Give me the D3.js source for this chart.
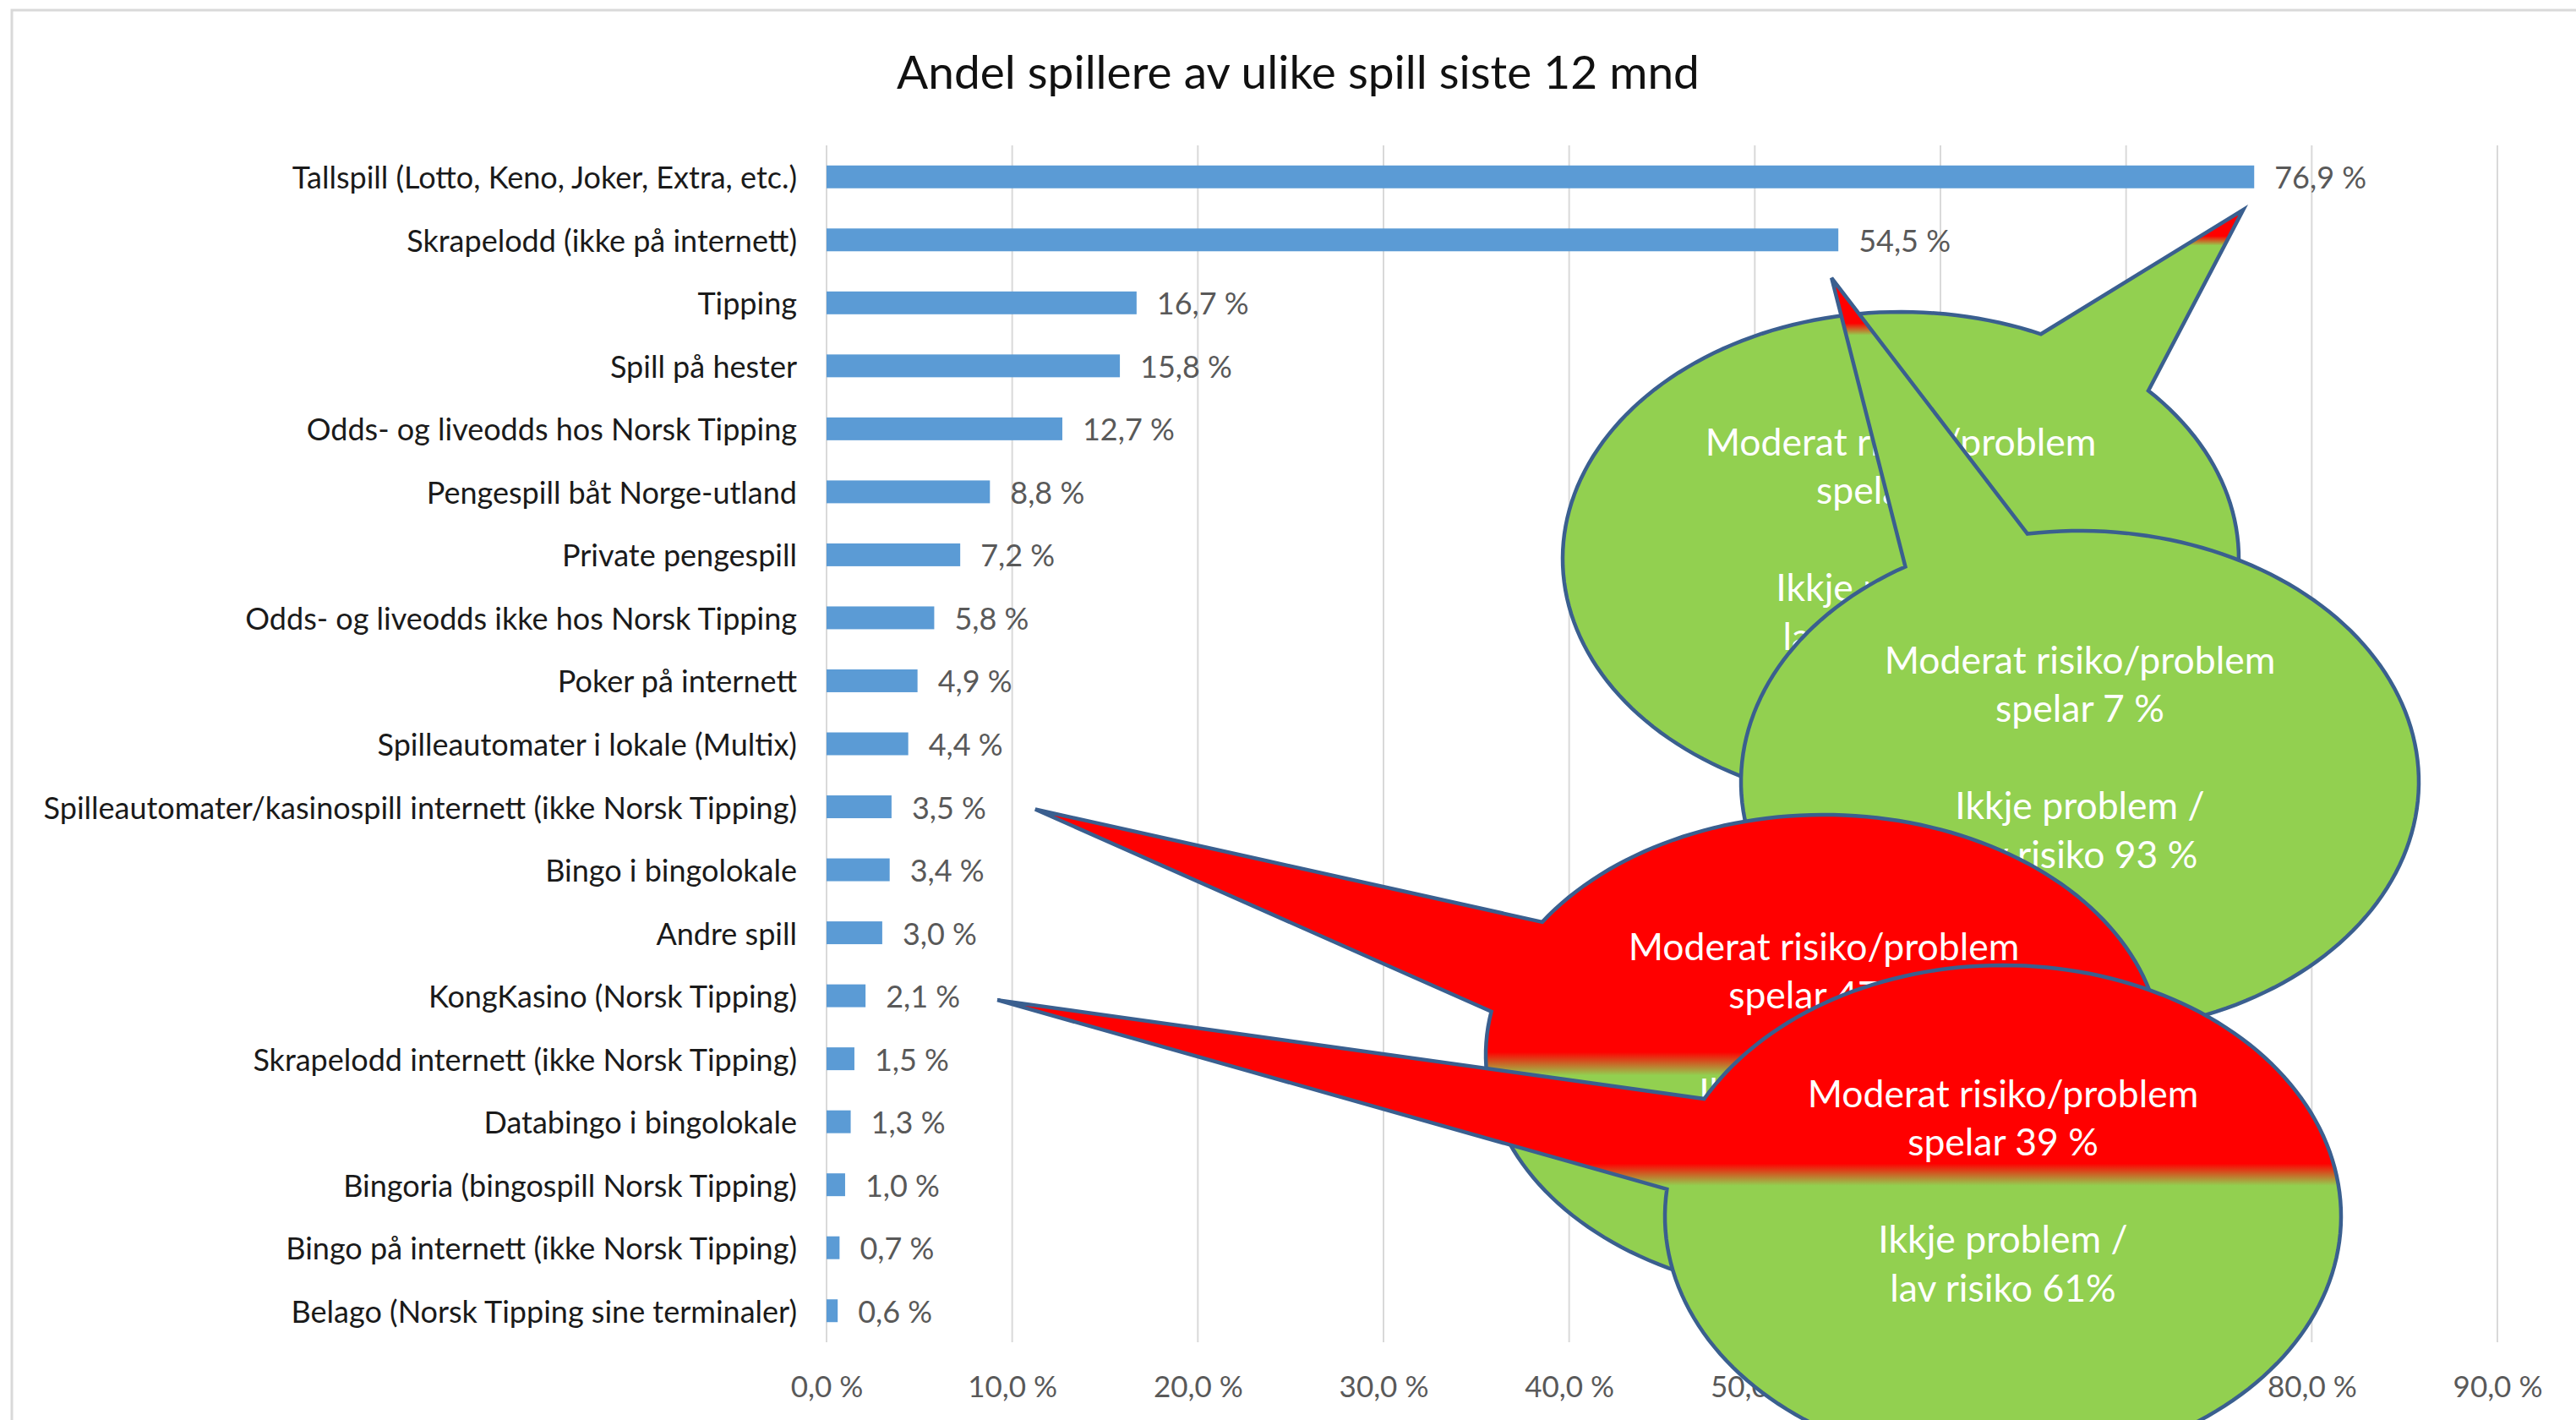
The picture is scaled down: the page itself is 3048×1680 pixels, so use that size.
<!DOCTYPE html>
<html lang="no">
<head>
<meta charset="UTF-8">
<title>Andel spillere av ulike spill siste 12 mnd</title>
<script src="https://d3js.org/d3.v7.min.js"></script>
<style>
  body { margin: 0; background: #fff; }
  text { font-family: Lato, "Open Sans", sans-serif; }
</style>
</head>
<body>
<svg width="3048" height="1680"></svg>
<script>
const categories = [
  "Tallspill (Lotto, Keno, Joker, Extra, etc.)",
  "Skrapelodd (ikke på internett)",
  "Tipping",
  "Spill på hester",
  "Odds- og liveodds hos Norsk Tipping",
  "Pengespill båt Norge-utland",
  "Private pengespill",
  "Odds- og liveodds ikke hos Norsk Tipping",
  "Poker på internett",
  "Spilleautomater i lokale (Multix)",
  "Spilleautomater/kasinospill internett (ikke Norsk Tipping)",
  "Bingo i bingolokale",
  "Andre spill",
  "KongKasino (Norsk Tipping)",
  "Skrapelodd internett (ikke Norsk Tipping)",
  "Databingo i bingolokale",
  "Bingoria (bingospill Norsk Tipping)",
  "Bingo på internett (ikke Norsk Tipping)",
  "Belago (Norsk Tipping sine terminaler)"
];
const values = [76.9, 54.5, 16.7, 15.8, 12.7, 8.8, 7.2, 5.8, 4.9, 4.4, 3.5, 3.4, 3.0, 2.1, 1.5, 1.3, 1.0, 0.7, 0.6];
const xTicks = [0, 10, 20, 30, 40, 50, 60, 70, 80, 90];

// speech bubbles: which bar they point at and what they say
const calloutTargets = [0, 1, 10, 13];
const calloutTexts = [
  ["Moderat risiko/problem", "spelar 5 %", "", "Ikkje problem /", "lav risiko 95 %"],
  ["Moderat risiko/problem", "spelar 7 %", "", "Ikkje problem /", "lav risiko 93 %"],
  ["Moderat risiko/problem", "spelar 47 %", "", "Ikkje problem /", "lav risiko 53 %"],
  ["Moderat risiko/problem", "spelar 39 %", "", "Ikkje problem /", "lav risiko 61%"]
];

// bubble shapes (pixels), gap = angles where the pointer joins the ellipse
const bubbleLayout = [
  { cx: 2249, cy: 661, rx: 400, ry: 292, gap: [-65.5, -42.9], tip: [-13, 39], split: 0.052, blend: 0.008, textTop: -140 },
  { cx: 2461, cy: 925, rx: 401, ry: 297, gap: [-121, -98.9], tip: [-8, 45], split: 0.068, blend: 0.008, textTop: -146 },
  { cx: 2158, cy: 1248, rx: 400, ry: 284, gap: [-169.6, -146.4], tip: [170, 3], split: 0.524, blend: 0.024, textTop: -130 },
  { cx: 2370, cy: 1439, rx: 400, ry: 297, gap: [-173.8, -152.1], tip: [156, 5], split: 0.417, blend: 0.022, textTop: -147 }
];

const svg = d3.select("svg");
const W = +svg.attr("width"), H = +svg.attr("height");
const fmt = v => d3.format(".1f")(v).replace(".", ",") + " %";

svg.append("rect").attr("width", W).attr("height", H).attr("fill", "#fff");
svg.append("rect")
  .attr("x", 14).attr("y", 12).attr("width", W + 20).attr("height", H + 20)
  .attr("fill", "none").attr("stroke", "#d9d9d9").attr("stroke-width", 3);

svg.append("text")
  .attr("x", 1536).attr("y", 84)
  .attr("text-anchor", "middle").attr("dominant-baseline", "central")
  .attr("font-size", 55).attr("fill", "#111")
  .text("Andel spillere av ulike spill siste 12 mnd");

const x = d3.scaleLinear().domain([0, 90]).range([978, 2955]);
const y = d3.scaleBand().domain(categories).range([172, 1588])
  .paddingInner(0.638).paddingOuter(0.319);

// gridlines
svg.append("g").selectAll("line")
  .data(xTicks)
  .join("line")
  .attr("x1", d => x(d)).attr("x2", d => x(d))
  .attr("y1", 172).attr("y2", 1588)
  .attr("stroke", "#d9d9d9").attr("stroke-width", 2);

const xAxis = svg.append("g")
  .attr("transform", "translate(0,1639)")
  .call(d3.axisBottom(x).tickValues(xTicks).tickFormat(fmt).tickSize(0).tickPadding(0));
xAxis.select(".domain").remove();
xAxis.selectAll("text")
  .attr("dy", null).attr("dominant-baseline", "central")
  .attr("font-size", 35).attr("font-family", "Lato, sans-serif").attr("fill", "#595959");

const yAxis = svg.append("g")
  .attr("transform", "translate(943,0)")
  .call(d3.axisLeft(y).tickSize(0).tickPadding(0));
yAxis.select(".domain").remove();
yAxis.selectAll("text")
  .attr("dy", null).attr("dominant-baseline", "central")
  .attr("font-size", 36).attr("font-family", "Lato, sans-serif").attr("fill", "#1a1a1a");

const rows = categories.map((c, i) => ({ cat: c, value: values[i] }));

svg.append("g").selectAll("rect")
  .data(rows)
  .join("rect")
  .attr("x", x(0))
  .attr("y", d => y(d.cat))
  .attr("width", d => x(d.value) - x(0))
  .attr("height", y.bandwidth())
  .attr("fill", "#5b9bd5");

svg.append("g").selectAll("text")
  .data(rows)
  .join("text")
  .attr("x", d => x(d.value) + 24)
  .attr("y", d => y(d.cat) + y.bandwidth() / 2)
  .attr("dominant-baseline", "central")
  .attr("font-size", 36).attr("fill", "#595959")
  .text(d => fmt(d.value));

// speech bubbles
const defs = svg.append("defs");
const rad = Math.PI / 180;

bubbleLayout.forEach((b, k) => {
  const g = defs.append("linearGradient")
    .attr("id", "grad" + k).attr("x1", 0).attr("y1", 0).attr("x2", 0).attr("y2", 1);
  [[0, "#ff0000"], [b.split - b.blend, "#ff0000"], [b.split + b.blend, "#92d050"], [1, "#92d050"]]
    .forEach(s => g.append("stop").attr("offset", s[0]).attr("stop-color", s[1]));

  const row = rows[calloutTargets[k]];
  const tip = [x(row.value) + b.tip[0], y(row.cat) + y.bandwidth() / 2 + b.tip[1]];
  const a0 = b.gap[1], a1 = b.gap[0] + 360;
  const pts = d3.range(0, 181).map(i => {
    const t = (a0 + (a1 - a0) * i / 180) * rad;
    return [b.cx + b.rx * Math.cos(t), b.cy + b.ry * Math.sin(t)];
  });
  pts.push(tip);

  const bubble = svg.append("g");
  bubble.append("path")
    .attr("d", d3.line()(pts) + "Z")
    .attr("fill", "url(#grad" + k + ")")
    .attr("stroke", "#3a5f8f").attr("stroke-width", 4.5)
    .attr("stroke-linejoin", "miter");

  bubble.selectAll("text")
    .data(calloutTexts[k])
    .join("text")
    .attr("x", b.cx)
    .attr("y", (d, i) => b.cy + b.textTop + i * 57.5)
    .attr("text-anchor", "middle").attr("dominant-baseline", "central")
    .attr("font-size", 44.5).attr("fill", "#fff")
    .text(d => d);
});
</script>
</body>
</html>
